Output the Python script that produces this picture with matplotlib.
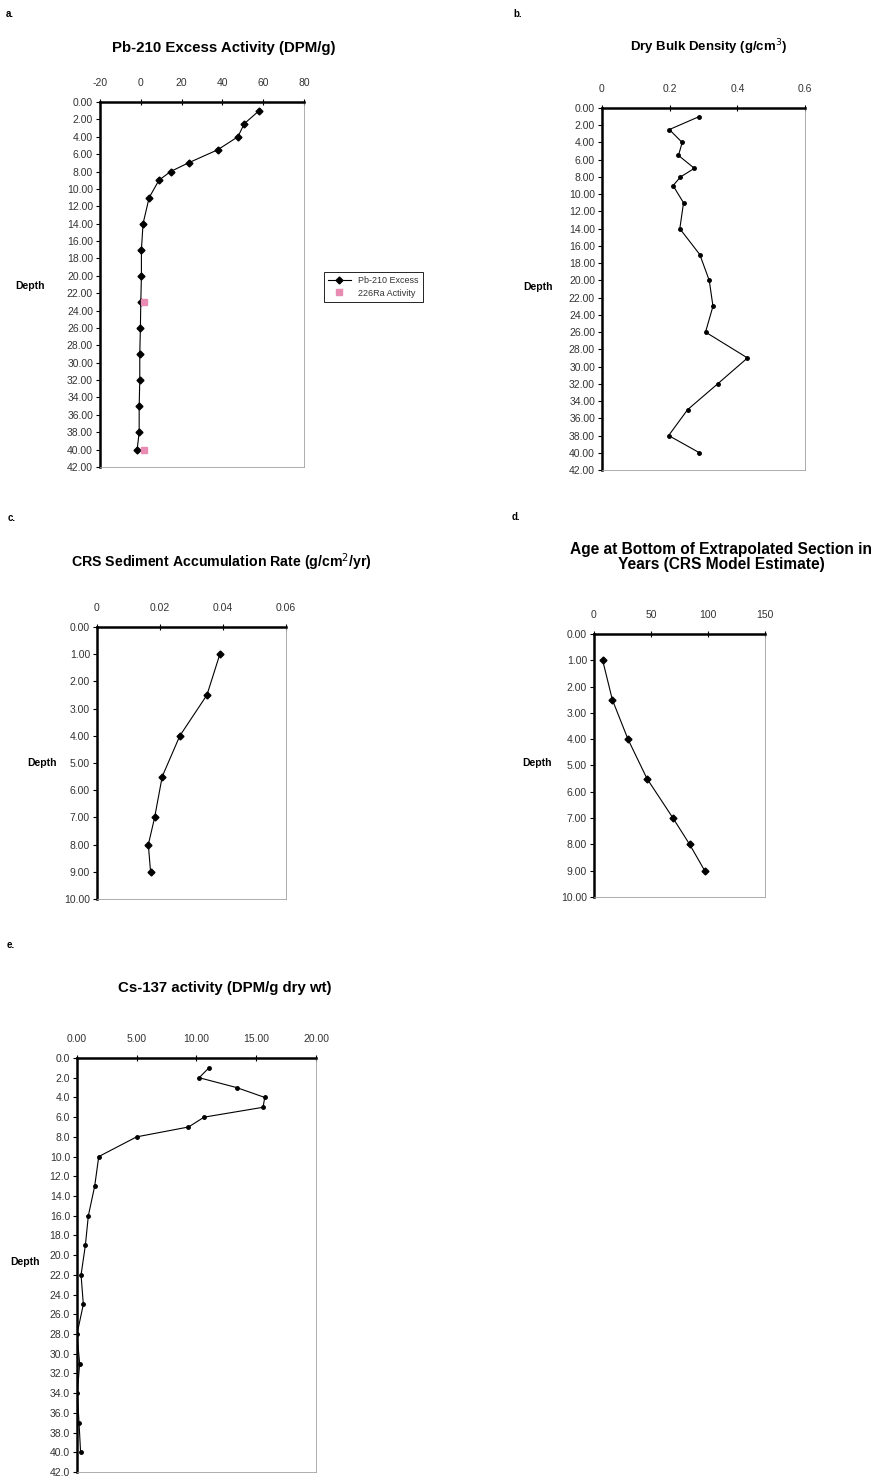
import matplotlib
matplotlib.use("Agg")
import matplotlib.pyplot as plt
from matplotlib.lines import Line2D
import numpy as np

plt.rcParams['font.family'] = ['Liberation Sans', 'DejaVu Sans']

# core depths (cm)
depth_pb = [1, 2.5, 4, 5.5, 7, 8, 9, 11, 14, 17, 20, 23, 26, 29, 32, 35, 38, 40]
pb210_excess = [58.0, 50.7, 47.6, 37.7, 23.4, 14.6, 8.9, 4.1, 1.1, 0.3, 0.3, 0.0,
                -0.2, -0.5, -0.5, -0.8, -0.8, -1.8]
depth_ra = [23, 40]
ra226_activity = [1.6, 1.6]

dry_bulk_density = [0.287, 0.199, 0.237, 0.226, 0.273, 0.232, 0.210, 0.241, 0.230,
                    0.289, 0.317, 0.328, 0.306, 0.430, 0.342, 0.253, 0.197, 0.288]

depth_crs = [1, 2.5, 4, 5.5, 7, 8, 9]
crs_rate = [0.0390, 0.0349, 0.0263, 0.0207, 0.0183, 0.0163, 0.0170]
crs_age = [7.6, 16.1, 29.8, 46.5, 69.3, 83.9, 97.1]

depth_cs = [1, 2, 3, 4, 5, 6, 7, 8, 10, 13, 16, 19, 22, 25, 28, 31, 34, 37, 40]
cs137 = [11.04, 10.22, 13.36, 15.71, 15.57, 10.64, 9.33, 4.99, 1.82, 1.48, 0.95,
         0.70, 0.34, 0.53, 0.0, 0.22, 0.03, 0.17, 0.30]

W, H = 878, 1481
fig = plt.figure(figsize=(W / 100, H / 100), dpi=100)


def make_ax(x0, x1, y0, y1):
    """axes from pixel box (left, right, top, bottom)"""
    return fig.add_axes([x0 / W, 1 - y1 / H, (x1 - x0) / W, (y1 - y0) / H])


def style_ax(ax, xlim, xticks, xfmt, ylim, yticks, yfmt):
    ax.set_xlim(*xlim)
    ax.set_ylim(ylim[1], ylim[0])
    ax.xaxis.tick_top()
    ax.set_xticks(xticks)
    ax.set_xticklabels([xfmt.format(v) for v in xticks])
    ax.set_yticks(yticks)
    ax.set_yticklabels([yfmt.format(v) for v in yticks])
    ax.tick_params(axis='x', direction='inout', length=4, width=0.8, pad=8,
                   labelsize=7.5, labelcolor='#333333')
    ax.tick_params(axis='y', direction='out', length=3, width=0.8, pad=2,
                   labelsize=7.5, labelcolor='#333333')
    for s in ['top', 'left']:
        ax.spines[s].set_linewidth(1.8)
        ax.spines[s].set_color('black')
    for s in ['right', 'bottom']:
        ax.spines[s].set_linewidth(0.6)
        ax.spines[s].set_color('#a0a0a0')


def ftext(x, y, s, **kw):
    fig.text(x / W, 1 - y / H, s, **kw)


# a. Pb-210
ax = make_ax(100, 304, 102, 467)
ax.plot(pb210_excess, depth_pb, color='black', lw=0.8, marker='D', ms=3.5)
ax.plot(ra226_activity, depth_ra, ls='none', marker='s', ms=4, color='#e88cb4')
style_ax(ax, (-20, 80), [-20, 0, 20, 40, 60, 80], '{:g}',
         (0, 42), np.arange(0, 43, 2), '{:.2f}')
ftext(6, 14, 'a.', fontsize=7, fontweight='bold', va='center')
ftext(224, 48, 'Pb-210 Excess Activity (DPM/g)', fontsize=10.8, fontweight='bold',
      ha='center', va='center')
ftext(30, 286, 'Depth', fontsize=7.5, fontweight='bold', ha='center', va='center')
handles = [Line2D([], [], color='black', lw=0.8, marker='D', ms=3.5),
           Line2D([], [], ls='none', marker='s', ms=4, color='#e88cb4')]
leg = fig.legend(handles, ['Pb-210 Excess', '226Ra Activity'], loc='upper left',
                 bbox_to_anchor=(319 / W, 1 - 267 / H), fontsize=6.5,
                 fancybox=False, edgecolor='black', framealpha=1,
                 handlelength=2.5, borderpad=0.5, labelspacing=0.4)
leg.get_frame().set_linewidth(0.6)
for t in leg.get_texts():
    t.set_color('#333333')

# b. dry bulk density
ax = make_ax(602, 805, 108, 470)
ax.plot(dry_bulk_density, depth_pb, color='black', lw=0.8, marker='o', ms=2.5)
style_ax(ax, (0, 0.6), [0, 0.2, 0.4, 0.6], '{:g}',
         (0, 42), np.arange(0, 43, 2), '{:.2f}')
ftext(513, 14, 'b.', fontsize=7, fontweight='bold', va='center')
ftext(709, 47, 'Dry Bulk Density (g/cm$^3$)', fontsize=9.5, fontweight='bold',
      ha='center', va='center')
ftext(538, 287, 'Depth', fontsize=7.5, fontweight='bold', ha='center', va='center')

# c. CRS accumulation rate
ax = make_ax(97, 286, 627, 899)
ax.plot(crs_rate, depth_crs, color='black', lw=0.8, marker='D', ms=3.5)
style_ax(ax, (0, 0.06), [0, 0.02, 0.04, 0.06], '{:g}',
         (0, 10), np.arange(0, 11, 1), '{:.2f}')
ftext(8, 518, 'c.', fontsize=7, fontweight='bold', va='center')
ftext(221, 562, 'CRS Sediment Accumulation Rate (g/cm$^2$/yr)', fontsize=10.2,
      fontweight='bold', ha='center', va='center')
ftext(42, 763, 'Depth', fontsize=7.5, fontweight='bold', ha='center', va='center')

# d. CRS age
ax = make_ax(594, 765, 634, 897)
ax.plot(crs_age, depth_crs, color='black', lw=0.8, marker='D', ms=3.5)
style_ax(ax, (0, 150), [0, 50, 100, 150], '{:g}',
         (0, 10), np.arange(0, 11, 1), '{:.2f}')
ftext(512, 517, 'd.', fontsize=7, fontweight='bold', va='center')
ftext(721, 557, 'Age at Bottom of Extrapolated Section in\nYears (CRS Model Estimate)',
      fontsize=11.2, fontweight='bold', ha='center', va='center', linespacing=1.0)
ftext(537, 763, 'Depth', fontsize=7.5, fontweight='bold', ha='center', va='center')

# e. Cs-137
ax = make_ax(77, 316, 1058, 1472)
ax.plot(cs137, depth_cs, color='black', lw=0.8, marker='o', ms=2.5)
style_ax(ax, (0, 20), [0, 5, 10, 15, 20], '{:.2f}',
         (0, 42), np.arange(0, 43, 2), '{:.1f}')
ftext(7, 945, 'e.', fontsize=7, fontweight='bold', va='center')
ftext(225, 988, 'Cs-137 activity (DPM/g dry wt)', fontsize=10.8, fontweight='bold',
      ha='center', va='center')
ftext(25, 1262, 'Depth', fontsize=7.5, fontweight='bold', ha='center', va='center')

fig.savefig('out.png', dpi=100, facecolor='white')
